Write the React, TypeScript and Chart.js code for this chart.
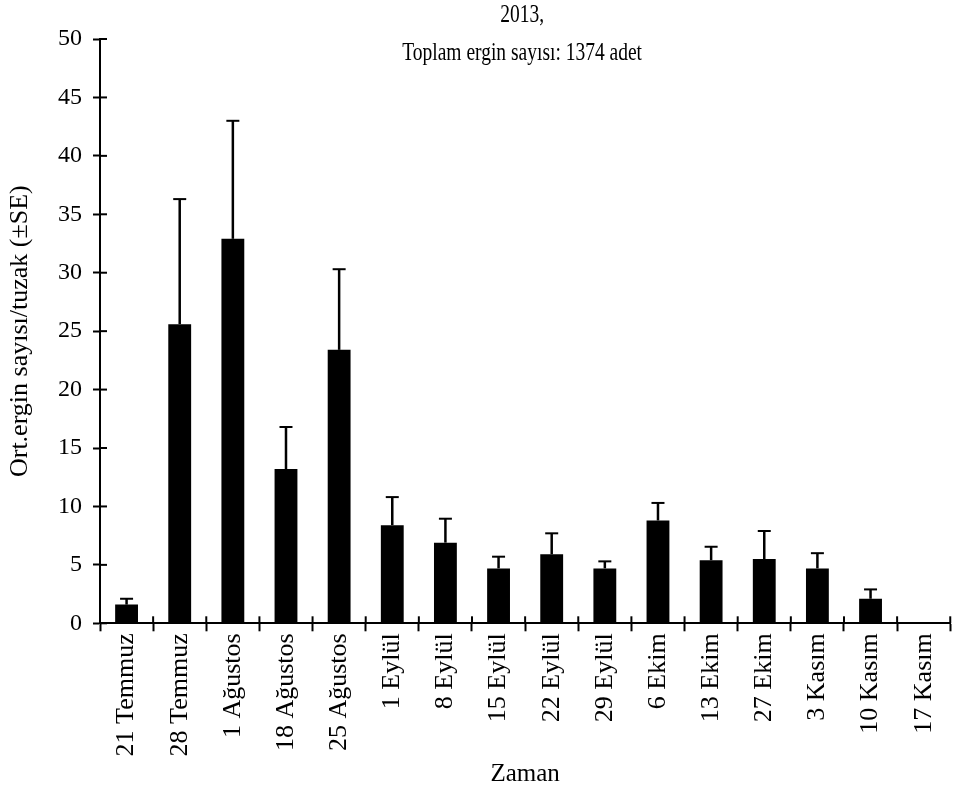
import React, { useEffect, useRef } from "react";
import { Chart, registerables } from "chart.js";

Chart.register(...registerables);

const CATEGORIES = [
  "21 Temmuz", "28 Temmuz", "1 Ağustos", "18 Ağustos", "25 Ağustos",
  "1 Eylül", "8 Eylül", "15 Eylül", "22 Eylül", "29 Eylül",
  "6 Ekim", "13 Ekim", "27 Ekim", "3 Kasım", "10 Kasım", "17 Kasım",
];
const MEANS = [1.6, 25.6, 32.9, 13.2, 23.4, 8.4, 6.9, 4.7, 5.9, 4.7, 8.8, 5.4, 5.5, 4.7, 2.1, 0];
const SE = [0.5, 10.7, 10.1, 3.6, 6.9, 2.4, 2.05, 1.0, 1.8, 0.6, 1.5, 1.15, 2.4, 1.3, 0.8, 0];
const Y_MIN = 0;
const Y_MAX = 50;
const Y_STEP = 5;
const TITLE_LINES = ["2013,", "Toplam ergin sayısı: 1374 adet"];
const X_TITLE = "Zaman";
const Y_TITLE = "Ort.ergin sayısı/tuzak (±SE)";

const FONT = "'Liberation Serif', 'Times New Roman', serif";

const errorBarPlugin = {
  id: "errorBars",
  afterDatasetsDraw(chart: any) {
    const ctx = chart.ctx;
    const meta = chart.getDatasetMeta(0);
    const yScale = chart.scales.y;
    ctx.save();
    ctx.strokeStyle = "#000";
    meta.data.forEach((bar: any, i: number) => {
      const se = SE[i];
      if (!se) return;
      const yTop = yScale.getPixelForValue(MEANS[i]);
      const yErr = yScale.getPixelForValue(MEANS[i] + se);
      ctx.lineWidth = 2.5;
      ctx.beginPath();
      ctx.moveTo(bar.x, yTop);
      ctx.lineTo(bar.x, yErr);
      ctx.stroke();
      ctx.lineWidth = 2;
      ctx.beginPath();
      ctx.moveTo(bar.x - 6.5, yErr);
      ctx.lineTo(bar.x + 6.5, yErr);
      ctx.stroke();
    });
    ctx.restore();
  },
};

const innerTicksPlugin = {
  id: "innerTicks",
  afterDraw(chart: any) {
    const ctx = chart.ctx;
    const x = chart.scales.x;
    const y = chart.scales.y;
    const area = chart.chartArea;
    ctx.save();
    ctx.strokeStyle = "#000";
    ctx.lineWidth = 2;
    y.ticks.forEach((t: any) => {
      const py = y.getPixelForValue(t.value);
      ctx.beginPath();
      ctx.moveTo(area.left, py);
      ctx.lineTo(area.left + 7, py);
      ctx.stroke();
    });
    for (let i = 0; i <= CATEGORIES.length; i++) {
      const px = x.getPixelForValue(i - 0.5);
      ctx.beginPath();
      ctx.moveTo(px, area.bottom);
      ctx.lineTo(px, area.bottom - 7);
      ctx.stroke();
    }
    ctx.restore();
  },
};

const titlePlugin = {
  id: "condensedTitle",
  afterDraw(chart: any) {
    const ctx = chart.ctx;
    const area = chart.chartArea;
    const cx = (area.left + area.right) / 2 - 3;
    const ys = [area.top - 23.5, area.top + 14];
    ctx.save();
    ctx.fillStyle = "#000";
    ctx.font = `25px ${FONT}`;
    ctx.textAlign = "center";
    ctx.textBaseline = "middle";
    TITLE_LINES.forEach((line, i) => {
      ctx.save();
      ctx.translate(cx, ys[i]);
      ctx.scale(0.78, 1);
      ctx.fillText(line, 0, 0);
      ctx.restore();
    });
    ctx.restore();
  },
};

export default function App() {
  const canvasRef = useRef<HTMLCanvasElement | null>(null);

  useEffect(() => {
    document.body.style.margin = "0";
    const canvas = canvasRef.current;
    if (!canvas) return;
    const chart = new Chart(canvas, {
      type: "bar",
      data: {
        labels: CATEGORIES,
        datasets: [
          {
            data: MEANS,
            backgroundColor: "#000",
            borderWidth: 0,
            barPercentage: 0.43,
            categoryPercentage: 1,
          },
        ],
      },
      options: {
        responsive: false,
        animation: false,
        devicePixelRatio: 1,
        layout: { padding: { top: 39, right: 3.7, bottom: 0, left: 0 } },
        plugins: {
          legend: { display: false },
          tooltip: { enabled: false },
          title: { display: false },
        },
        scales: {
          x: {
            type: "category",
            offset: true,
            grid: {
              offset: true,
              drawOnChartArea: false,
              drawTicks: true,
              tickLength: 8,
              tickWidth: 2,
              color: "#000",
            },
            border: { display: true, color: "#000", width: 2 },
            ticks: {
              autoSkip: false,
              maxRotation: 90,
              minRotation: 90,
              padding: 2,
              color: "#000",
              font: { family: FONT, size: 26 },
            },
            title: {
              display: true,
              text: X_TITLE,
              color: "#000",
              font: { family: FONT, size: 25 },
              padding: { top: 0, bottom: 5 },
            },
            afterFit(scale: any) {
              scale.height = 794 - 623.3;
            },
          },
          y: {
            type: "linear",
            min: Y_MIN,
            max: Y_MAX,
            grid: {
              drawOnChartArea: false,
              drawTicks: true,
              tickLength: 7,
              tickWidth: 2,
              color: "#000",
            },
            border: { display: true, color: "#000", width: 2 },
            ticks: {
              stepSize: Y_STEP,
              padding: 11,
              color: "#000",
              font: { family: FONT, size: 24 },
            },
            title: {
              display: true,
              text: Y_TITLE,
              color: "#000",
              font: { family: FONT, size: 26 },
              padding: { top: 5, bottom: 0 },
            },
            afterFit(scale: any) {
              scale.width = 100;
            },
          },
        },
      },
      plugins: [errorBarPlugin, innerTicksPlugin, titlePlugin],
    });
    return () => chart.destroy();
  }, []);

  return (
    <canvas
      ref={canvasRef}
      width={957}
      height={794}
      style={{ display: "block", width: 957, height: 794 }}
    />
  );
}
